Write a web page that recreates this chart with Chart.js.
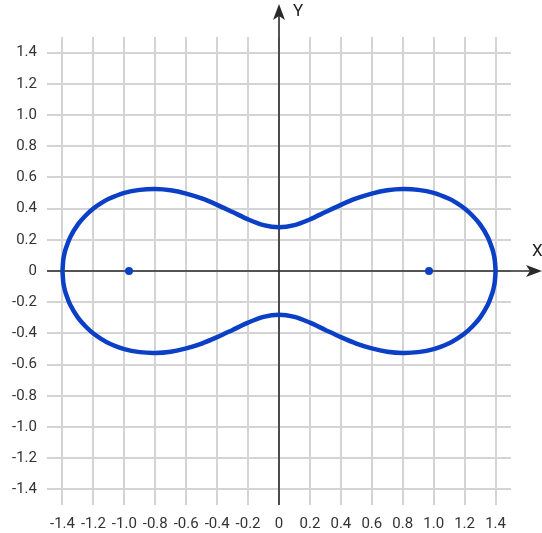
<!DOCTYPE html>
<html>
<head>
<meta charset="utf-8">
<script src="https://cdn.jsdelivr.net/npm/chart.js@4/dist/chart.umd.min.js"></script>
<style>
  html, body { margin: 0; padding: 0; background: #fff; }
  #wrap { width: 542px; height: 533px; }
</style>
</head>
<body>
<div id="wrap"><canvas id="oval" width="542" height="533"></canvas></div>
<script>
// upper half of the oval, left to right; lower half is its mirror
const ovalX = [-1.4, -1.395, -1.39, -1.38, -1.35, -1.3, -1.25, -1.2, -1.15, -1.1, -1.0, -0.9, -0.8, -0.7, -0.6, -0.5, -0.4, -0.3, -0.2, -0.1,
  0, 0.1, 0.2, 0.3, 0.4, 0.5, 0.6, 0.7, 0.8, 0.9, 1.0, 1.1, 1.15, 1.2, 1.25, 1.3, 1.35, 1.38, 1.39, 1.395, 1.4];
const ovalUpperY = [0, 0.070, 0.099, 0.139, 0.217, 0.299, 0.356, 0.401, 0.435, 0.463, 0.501, 0.520, 0.525, 0.517, 0.496, 0.465, 0.424, 0.378, 0.331, 0.294,
  0.280, 0.294, 0.331, 0.378, 0.424, 0.465, 0.496, 0.517, 0.525, 0.520, 0.501, 0.463, 0.435, 0.401, 0.356, 0.299, 0.217, 0.139, 0.099, 0.070, 0];
const ovalLowerY = [0, -0.070, -0.099, -0.139, -0.217, -0.299, -0.356, -0.401, -0.435, -0.463, -0.501, -0.520, -0.525, -0.517, -0.496, -0.465, -0.424, -0.378, -0.331, -0.294,
  -0.280, -0.294, -0.331, -0.378, -0.424, -0.465, -0.496, -0.517, -0.525, -0.520, -0.501, -0.463, -0.435, -0.401, -0.356, -0.299, -0.217, -0.139, -0.099, -0.070, 0];

const fociX = [-0.97, 0.97];
const fociY = [0, 0];

const tickValues = [-1.4, -1.2, -1.0, -0.8, -0.6, -0.4, -0.2, 0, 0.2, 0.4, 0.6, 0.8, 1.0, 1.2, 1.4];

const BLUE = '#0a3fc6';
const AXIS = '#2a2a2a';
const FONT = 'Roboto, "Noto Sans", sans-serif';

// one closed path: across the top, then back along the bottom
const loop = ovalX.map((x, i) => ({ x, y: ovalUpperY[i] }));
for (let i = ovalX.length - 2; i >= 0; i -= 1) {
  loop.push({ x: ovalX[i], y: ovalLowerY[i] });
}

const fmt = (v) => (v === 0 ? '0' : v.toFixed(1));

const setTicks = (scale) => {
  scale.ticks = tickValues.map((v) => ({ value: v }));
};

const arrowHead = (ctx, x, y, dir) => {
  // dir: 'up' or 'right'
  const len = 16;
  const half = 6;
  ctx.beginPath();
  if (dir === 'up') {
    ctx.moveTo(x, y);
    ctx.lineTo(x - half, y + len);
    ctx.lineTo(x, y + len - 4);
    ctx.lineTo(x + half, y + len);
  } else {
    ctx.moveTo(x, y);
    ctx.lineTo(x - len, y - half);
    ctx.lineTo(x - len + 4, y);
    ctx.lineTo(x - len, y + half);
  }
  ctx.closePath();
  ctx.fill();
};

const originAxes = {
  id: 'originAxes',
  beforeDatasetsDraw(chart) {
    const { ctx, chartArea, scales } = chart;
    const ox = scales.x.getPixelForValue(0);
    const oy = scales.y.getPixelForValue(0);
    ctx.save();
    ctx.strokeStyle = AXIS;
    ctx.fillStyle = AXIS;
    ctx.lineWidth = 1.6;

    ctx.beginPath();
    ctx.moveTo(chartArea.left, oy);
    ctx.lineTo(chart.width - 6, oy);
    ctx.moveTo(ox, chartArea.bottom);
    ctx.lineTo(ox, 10);
    ctx.stroke();

    arrowHead(ctx, chart.width, oy, 'right');
    arrowHead(ctx, ox, 4, 'up');

    ctx.fillStyle = '#222';
    ctx.font = '17px ' + FONT;
    ctx.textBaseline = 'middle';
    ctx.textAlign = 'left';
    ctx.fillText('Y', ox + 14, 12);
    ctx.fillText('X', chart.width - 10, oy - 19);
    ctx.restore();
  },
};

new Chart(document.getElementById('oval'), {
  type: 'scatter',
  data: {
    datasets: [
      {
        data: loop,
        showLine: true,
        borderColor: BLUE,
        borderWidth: 4.5,
        tension: 0.3,
        pointRadius: 0,
        fill: false,
      },
      {
        data: fociX.map((x, i) => ({ x, y: fociY[i] })),
        showLine: false,
        pointRadius: 4,
        pointBackgroundColor: BLUE,
        pointBorderColor: BLUE,
        pointBorderWidth: 0,
      },
    ],
  },
  options: {
    responsive: false,
    animation: false,
    layout: { padding: { top: 37, right: 31, left: 0, bottom: 0 } },
    plugins: {
      legend: { display: false },
      tooltip: { enabled: false },
    },
    scales: {
      x: {
        type: 'linear',
        min: -1.5,
        max: 1.5,
        afterBuildTicks: setTicks,
        afterFit: (s) => { s.height = 28; },
        border: { display: false },
        grid: { color: '#d4d4d4', lineWidth: 2, drawTicks: false },
        ticks: {
          padding: 10,
          color: '#333',
          font: { family: FONT, size: 15 },
          maxRotation: 0,
          autoSkip: false,
          callback: (v) => fmt(v),
        },
      },
      y: {
        type: 'linear',
        min: -1.5,
        max: 1.5,
        afterBuildTicks: setTicks,
        afterFit: (s) => { s.width = 47; },
        border: { display: false },
        grid: { color: '#d4d4d4', lineWidth: 2, drawTicks: false },
        ticks: {
          padding: 10,
          color: '#333',
          font: { family: FONT, size: 15 },
          autoSkip: false,
          callback: (v) => fmt(v),
        },
      },
    },
  },
  plugins: [originAxes],
});
</script>
</body>
</html>
